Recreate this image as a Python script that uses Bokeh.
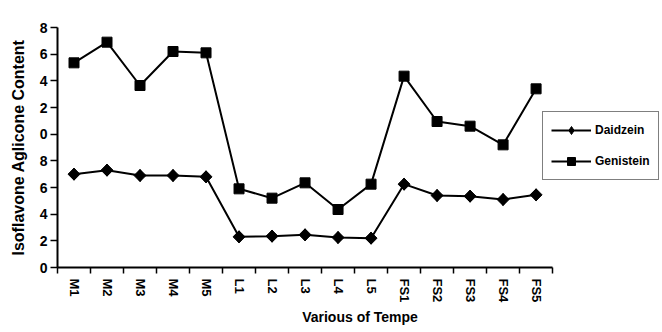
import math
from bokeh.plotting import figure
from bokeh.models import (Range1d, LinearAxis, FixedTicker,
                          Legend, LegendItem, ColumnDataSource)
from bokeh.embed import file_html
from bokeh.resources import INLINE

cats = ["M1", "M2", "M3", "M4", "M5", "L1", "L2", "L3", "L4", "L5",
        "FS1", "FS2", "FS3", "FS4", "FS5"]
daidzein = [7.0, 7.3, 6.9, 6.9, 6.8, 2.3, 2.35, 2.45, 2.25, 2.2,
            6.25, 5.4, 5.35, 5.1, 5.45]
genistein = [15.35, 16.9, 13.65, 16.2, 16.1, 5.9, 5.2, 6.35, 4.35, 6.25,
             14.35, 10.95, 10.6, 9.2, 13.4]
y_ticks = [0, 2, 4, 6, 8, 10, 12, 14, 16, 18]
y_tick_labels = ["0", "2", "4", "6", "8", "0", "2", "4", "6", "8"]

# category slots: one unit each, markers at the slot centres
pos = [i + 0.5 for i in range(len(cats))]
bounds = list(range(len(cats) + 1))

src = ColumnDataSource(dict(x=pos, cat=cats, d=daidzein, g=genistein))

FONT = "Liberation Sans"

p = figure(width=662, height=332, x_range=Range1d(0, 18.33),
           y_range=Range1d(0, 18),
           output_backend="svg", toolbar_location=None,
           x_axis_location=None, y_axis_location=None,
           min_border_left=57, min_border_right=0,
           min_border_top=27, min_border_bottom=65)
p.outline_line_color = None
p.xgrid.visible = False
p.ygrid.visible = False
p.background_fill_color = "white"
p.border_fill_color = "white"

# y axis
yax = LinearAxis(ticker=FixedTicker(ticks=y_ticks))
yax.major_label_overrides = {t: l for t, l in zip(y_ticks, y_tick_labels)}
yax.major_label_text_font = FONT
yax.major_label_text_font_style = "bold"
yax.major_label_text_font_size = "14px"
yax.major_label_text_color = "black"
yax.axis_line_width = 2
yax.axis_line_color = "black"
yax.major_tick_out = 7
yax.major_tick_in = 0
yax.major_tick_line_width = 1.5
yax.minor_tick_line_color = None
yax.major_label_standoff = 3
yax.axis_label = "Isoflavone Aglicone Content"
yax.axis_label_text_font = FONT
yax.axis_label_text_font_style = "bold"
yax.axis_label_text_font_size = "16px"
yax.axis_label_text_color = "black"
yax.axis_label_standoff = 10
p.add_layout(yax, "left")

# x axis: labels at slot centres, tick marks at slot boundaries
xax = LinearAxis(ticker=FixedTicker(ticks=pos, minor_ticks=bounds),
                 bounds=(0, len(cats)))
xax.major_label_overrides = {c: name for c, name in zip(pos, cats)}
xax.major_label_orientation = "vertical"
xax.major_label_text_font = FONT
xax.major_label_text_font_style = "bold"
xax.major_label_text_font_size = "13px"
xax.major_label_text_color = "black"
xax.major_tick_line_color = None
xax.major_tick_out = 6
xax.major_tick_in = 0
xax.major_label_standoff = 5
xax.minor_tick_line_color = "black"
xax.minor_tick_line_width = 1.5
xax.minor_tick_out = 6
xax.minor_tick_in = 0
xax.axis_line_width = 2
xax.axis_line_color = "black"
xax.axis_label = "Various of Tempe"
xax.axis_label_text_font = FONT
xax.axis_label_text_font_style = "bold"
xax.axis_label_text_font_size = "14px"
xax.axis_label_text_color = "black"
xax.axis_label_standoff = 4
p.add_layout(xax, "below")

# lines and markers
ld = p.line("x", "d", source=src, line_color="black", line_width=2)
# diamond (used as the legend key) sits fully inside the rotated square
md_key = p.scatter("x", "d", source=src, marker="diamond", size=12,
                   fill_color="black", line_color="black")
md = p.scatter("x", "d", source=src, marker="square", angle=math.pi / 4,
               size=8.5, fill_color="black", line_color="black")
lg = p.line("x", "g", source=src, line_color="black", line_width=2)
mg = p.scatter("x", "g", source=src, marker="square", size=10,
               fill_color="black", line_color="black")

legend = Legend(items=[LegendItem(label="Daidzein", renderers=[ld, md_key]),
                       LegendItem(label="Genistein", renderers=[lg, mg])],
                location=(485, 87))
legend.border_line_color = "black"
legend.border_line_width = 1.5
legend.background_fill_color = "white"
legend.label_text_font = FONT
legend.label_text_font_style = "bold"
legend.label_text_font_size = "12px"
legend.label_text_color = "black"
legend.glyph_width = 40
legend.glyph_height = 20
legend.label_height = 20
legend.label_standoff = 4
legend.padding = 8
legend.spacing = 11
legend.margin = 0
p.add_layout(legend, "center")

open("out.html", "w").write(file_html(p, INLINE))
